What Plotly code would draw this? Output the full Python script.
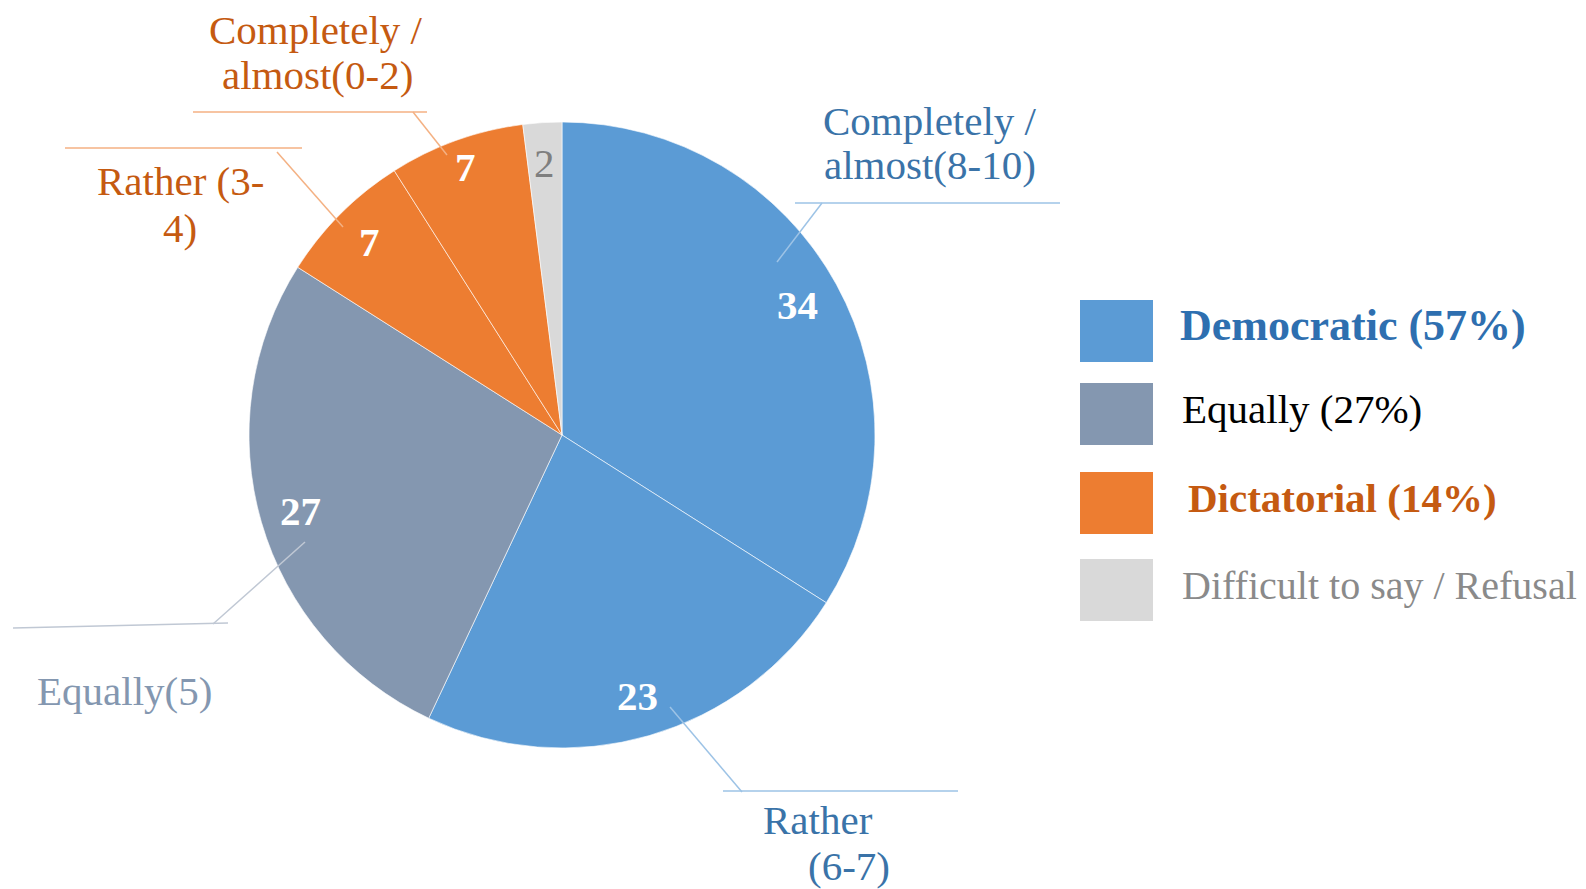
import math
import plotly.graph_objects as go

# ---- data ----
categories = ["Completely / almost(8-10)", "Rather (6-7)", "Equally(5)",
              "Rather (3-4)", "Completely / almost(0-2)", "Difficult to say / Refusal"]
values = [34, 23, 27, 7, 7, 2]
slice_colors = ["#5B9BD5", "#5B9BD5", "#8497B0", "#ED7D31", "#ED7D31", "#D9D9D9"]
value_label_colors = ["white", "white", "white", "white", "white", "#7F7F7F"]
value_label_bold = [True, True, True, True, True, False]
value_label_radius = [0.86, 0.87, 0.87, 0.87, 0.91, 0.87]

legend_names = ["Democratic (57%)", "Equally (27%)", "Dictatorial (14%)", "Difficult to say / Refusal"]
legend_colors = ["#5B9BD5", "#8497B0", "#ED7D31", "#D9D9D9"]
legend_text_colors = ["#2E6FB0", "#000000", "#C55A11", "#8A8A8A"]
legend_bold = [True, False, True, False]
legend_sizes = [44, 41, 41, 40]

# page body has an 8px margin: the figure is shifted by it
OFF = 8
W, H = 1586 - OFF, 889 - OFF
FONT = "Liberation Serif, Times New Roman, serif"

# pie placement (target page pixels)
CX, CY, R = 562, 435, 313


def px(x):
    return (x - OFF) / W


def py(y):
    return 1 - (y - OFF) / H


fig = go.Figure()
fig.add_trace(go.Pie(
    labels=categories, values=values, sort=False, direction="clockwise", rotation=0,
    marker=dict(colors=slice_colors, line=dict(color="rgba(255,255,255,0.6)", width=1)),
    textinfo="none", hoverinfo="label+value", showlegend=False,
    domain=dict(x=[px(CX - R), px(CX + R)], y=[py(CY + R), py(CY - R)]),
))

annotations = []
shapes = []

# value labels inside slices, positioned from cumulative values
total = sum(values)
cum = 0
for v, c, b, rf in zip(values, value_label_colors, value_label_bold, value_label_radius):
    mid = (cum + v / 2) / total * 2 * math.pi
    cum += v
    rr = rf * R
    x = CX + rr * math.sin(mid)
    y = CY - rr * math.cos(mid)
    txt = f"<b>{v}</b>" if b else str(v)
    annotations.append(dict(x=px(x), y=py(y), xref="paper", yref="paper", text=txt,
                            showarrow=False, font=dict(family=FONT, size=41, color=c),
                            xanchor="center", yanchor="middle"))

# outside category labels with leader lines
label_specs = [
    dict(lines=[("Completely /", 930, 121), ("almost(8-10)", 930, 165)], color="#3A73A8",
         lc="#9DC3E6", segs=[((777, 262), (822, 203)), ((795, 203), (1060, 203))]),
    dict(lines=[("Rather", 818, 820), ("(6-7)", 849, 866)], color="#3A73A8",
         lc="#9DC3E6", segs=[((670, 707), (742, 792)), ((723, 791), (958, 791))]),
    dict(lines=[("Equally(5)", 125, 691)], color="#8497B0",
         lc="#C0C8D4", segs=[((305, 542), (213, 624)), ((13, 628), (228, 623))]),
    dict(lines=[("Rather (3-", 180, 181), ("4)", 180, 228)], color="#C55A11",
         lc="#F4B183", segs=[((277, 152), (343, 227)), ((65, 148), (302, 148))]),
    dict(lines=[("Completely /", 316, 30), ("almost(0-2)", 317, 75)], color="#C55A11",
         lc="#F4B183", segs=[((413, 112), (447, 155)), ((193, 112), (427, 112))]),
]
for spec in label_specs:
    for t, x, y in spec["lines"]:
        annotations.append(dict(x=px(x), y=py(y), xref="paper", yref="paper", text=t,
                                showarrow=False, font=dict(family=FONT, size=41, color=spec["color"]),
                                xanchor="center", yanchor="middle"))
    for (x0, y0), (x1, y1) in spec["segs"]:
        shapes.append(dict(type="line", xref="paper", yref="paper",
                           x0=px(x0), y0=py(y0), x1=px(x1), y1=py(y1),
                           line=dict(color=spec["lc"], width=1.5)))

# custom legend
box_tops = [300, 383, 472, 559]
text_x = [1178, 1180, 1186, 1180]
for name, col, tcol, b, sz, top, tx in zip(legend_names, legend_colors, legend_text_colors,
                                           legend_bold, legend_sizes, box_tops, text_x):
    shapes.append(dict(type="rect", xref="paper", yref="paper",
                       x0=px(1080), x1=px(1153), y0=py(top + 62), y1=py(top),
                       fillcolor=col, line=dict(width=0)))
    annotations.append(dict(x=px(tx), y=py(top + 26), xref="paper", yref="paper",
                            text=f"<b>{name}</b>" if b else name, showarrow=False,
                            font=dict(family=FONT, size=sz, color=tcol),
                            xanchor="left", yanchor="middle"))

fig.update_layout(
    width=W, height=H, margin=dict(l=0, r=0, t=0, b=0),
    paper_bgcolor="white", plot_bgcolor="white",
    annotations=annotations, shapes=shapes, showlegend=False,
)
fig.write_html("out.html")
